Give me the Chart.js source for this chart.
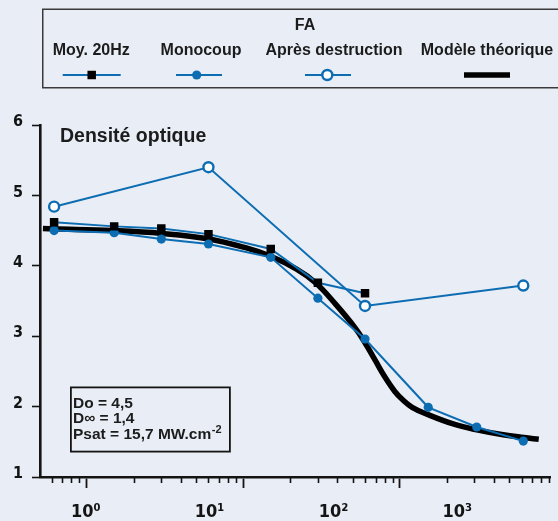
<!DOCTYPE html>
<html><head><meta charset="utf-8">
<script src="https://cdn.jsdelivr.net/npm/chart.js@4.4.1/dist/chart.umd.min.js"></script>
<style>html,body{margin:0;padding:0;background:#E9EDF5;}canvas{display:block}</style>
</head><body>
<canvas id="c" width="558" height="521"></canvas>
<script>
// ---- data ----
const intensity = [0.62, 1.5, 3, 6, 15, 30, 60, 152, 310, 615];
const moy20Hz = [4.62, 4.56, 4.53, 4.45, 4.24, 3.76, 3.61];
const monocoup = [4.50, 4.47, 4.38, 4.31, 4.12, 3.54, 2.96, 1.99, 1.71, 1.51];
const apresX = [0.62, 6, 60, 615];
const apresDestruction = [4.84, 5.40, 3.43, 3.72];
const modelX = [0.526, 0.622, 1.47, 3.02, 5.92, 10.6, 15, 21.8, 29.1, 38.9, 52, 60.2, 69.6, 80.4, 93, 104, 120, 150, 222, 310, 458, 621, 772];
const modelY = [4.53, 4.525, 4.50, 4.46, 4.385, 4.25, 4.135, 3.955, 3.755, 3.455, 3.115, 2.90, 2.66, 2.42, 2.215, 2.10, 1.99, 1.89, 1.75, 1.67, 1.60, 1.56, 1.535];
const yTickValues = [1, 2, 3, 4, 5, 6];
const decadeTicks = [1, 10, 100, 1000];
const decadeLabels = ['10⁰', '10¹', '10²', '10³'];
const seriesNames = ['Moy. 20Hz', 'Monocoup', 'Après destruction', 'Modèle théorique'];
const legendTitle = 'FA';
const panelTitle = 'Densité optique';
const fitLines = ['Do = 4,5', 'D∞ = 1,4', 'Psat = 15,7 MW.cm'];
const fitSup = '-2';

// ---- style ----
const BG = '#E9EDF5';
const BLUE = '#0d6db3';
const INK = '#141414';
const F = "'Liberation Sans', Arial, Helvetica, sans-serif";
const FN = "'Liberation Sans Narrow', 'Arial Narrow', 'DejaVu Sans Condensed', sans-serif";

const isDecade = v => Math.abs(Math.log10(v) - Math.round(Math.log10(v))) < 1e-9;
const pts = (xs, ys) => ys.map((y, i) => ({x: xs[i], y}));

const bgPlugin = {
  id: 'bg',
  beforeDraw(chart) {
    const c = chart.ctx; c.save(); c.fillStyle = BG;
    c.fillRect(0, 0, chart.width, chart.height); c.restore();
  }
};

const minorTicks = {
  id: 'minorTicks',
  afterDraw(chart) {
    const s = chart.scales.x, c = chart.ctx, a = chart.chartArea;
    c.save(); c.strokeStyle = INK; c.lineWidth = 1.6;
    s.ticks.forEach(t => {
      if (isDecade(t.value)) return;
      const px = Math.round(s.getPixelForValue(t.value)) + 0.5;
      if (px < a.left + 2 || px > a.right - 1) return;
      c.beginPath(); c.moveTo(px, a.bottom); c.lineTo(px, a.bottom + 6); c.stroke();
    });
    c.restore();
  }
};

function drawMarker(c, ds, x, y) {
  const r = ds.pointRadius;
  c.save();
  c.fillStyle = ds.pointBackgroundColor; c.strokeStyle = ds.pointBorderColor;
  c.lineWidth = ds.pointBorderWidth;
  c.beginPath();
  if (ds.pointStyle === 'rect') {
    const h = r * Math.SQRT1_2;
    c.rect(x - h, y - h, 2 * h, 2 * h);
  } else {
    c.arc(x, y, r, 0, Math.PI * 2);
  }
  c.fill(); if (ds.pointBorderWidth > 0) c.stroke();
  c.restore();
}

const legendBox = {
  id: 'legendBox',
  afterDraw(chart) {
    const c = chart.ctx;
    c.save();
    c.strokeStyle = '#3a3a3a'; c.lineWidth = 1.5;
    c.strokeRect(42.75, 9.25, 560, 78.5);
    c.fillStyle = '#1c1c1c';
    c.textAlign = 'center'; c.textBaseline = 'middle';
    c.font = 'bold 16px ' + F;
    c.fillText(legendTitle, 305, 26);
    const textX = [91.3, 201, 334, 487];
    const symX = [91.7, 199, 328, 487];
    const symHalf = [29, 23, 23, 23];
    const markX = [91.7, 196.7, 327.3, null];
    chart.data.datasets.forEach((ds, i) => {
      c.fillStyle = '#1c1c1c';
      c.font = 'bold 16px ' + F;
      c.fillText(ds.label, textX[i], 51);
      c.strokeStyle = ds.borderColor; c.lineWidth = ds.borderWidth;
      c.beginPath(); c.moveTo(symX[i] - symHalf[i], 75); c.lineTo(symX[i] + symHalf[i], 75); c.stroke();
      if (markX[i] !== null) drawMarker(c, ds, markX[i], 75);
    });
    c.restore();
  }
};

const annotations = {
  id: 'annotations',
  afterDraw(chart) {
    const c = chart.ctx, a = chart.chartArea;
    c.save();
    c.fillStyle = '#1c1c1c';
    c.textAlign = 'left'; c.textBaseline = 'middle';
    c.font = 'bold 19.5px ' + F;
    c.fillText(panelTitle, a.left + 20, a.top + 12);
    // fit parameter box
    c.strokeStyle = INK; c.lineWidth = 1.8;
    c.strokeRect(70.9, 387.4, 159, 64.2);
    c.font = 'bold 15.5px ' + F;
    const ys = [403.5, 419.2, 435];
    fitLines.forEach((t, i) => c.fillText(t, 73, ys[i]));
    const w = c.measureText(fitLines[2]).width;
    c.font = 'bold 11px ' + F;
    c.fillText(fitSup, 73 + w + 0.5, 430);
    c.restore();
  }
};

const xTickValues = [];
[0.1, 1, 10, 100].forEach(d => { for (let m = 1; m <= 9; m++) xTickValues.push(+(m * d).toPrecision(3)); });

new Chart(document.getElementById('c'), {
  type: 'line',
  data: {
    datasets: [
      { label: seriesNames[0], data: pts(intensity, moy20Hz), borderColor: BLUE, borderWidth: 2,
        pointStyle: 'rect', pointRadius: 6, pointBackgroundColor: '#000', pointBorderColor: '#000', pointBorderWidth: 0, tension: 0 },
      { label: seriesNames[1], data: pts(intensity, monocoup), borderColor: BLUE, borderWidth: 2,
        pointStyle: 'circle', pointRadius: 4.6, pointBackgroundColor: BLUE, pointBorderColor: BLUE, pointBorderWidth: 0, tension: 0 },
      { label: seriesNames[2], data: pts(apresX, apresDestruction), borderColor: BLUE, borderWidth: 2,
        pointStyle: 'circle', pointRadius: 5, pointBackgroundColor: '#fff', pointBorderColor: BLUE, pointBorderWidth: 2.4, tension: 0 },
      { label: seriesNames[3], data: pts(modelX, modelY), borderColor: '#000', borderWidth: 5.5,
        pointRadius: 0, tension: 0.4, borderCapStyle: 'butt', borderJoinStyle: 'round' }
    ]
  },
  options: {
    responsive: false, animation: false, events: [],
    layout: { padding: { left: 4, right: 0, top: 125, bottom: 0 } },
    plugins: { legend: { display: false }, tooltip: { enabled: false }, title: { display: false } },
    scales: {
      x: {
        type: 'logarithmic', position: 'bottom', weight: 0,
        min: 0.504, max: 919,
        afterBuildTicks: s => { s.ticks = xTickValues.filter(v => v >= s.min && v <= s.max).map(v => ({value: v})); },
        ticks: { display: false },
        grid: { display: true, drawOnChartArea: false, drawTicks: true, tickLength: 11,
                tickWidth: 1.8, tickColor: ctx => (ctx.tick && isDecade(ctx.tick.value)) ? INK : 'rgba(0,0,0,0)' },
        border: { display: true, color: INK, width: 2.6 }
      },
      x2: {
        type: 'logarithmic', position: 'bottom', weight: 1,
        min: 0.4264, max: 5675,
        afterBuildTicks: s => { s.ticks = decadeTicks.map(v => ({value: v})); },
        afterFit: s => { s.height = 33; },
        ticks: { display: true, autoSkip: false, maxRotation: 0, padding: 14, color: INK,
                 font: { family: FN, size: 18, weight: 'bold' },
                 callback: (v) => decadeLabels[decadeTicks.indexOf(v)] },
        grid: { display: false, drawTicks: false },
        border: { display: false }
      },
      y: {
        type: 'linear', position: 'left', min: 1, max: 6,
        afterBuildTicks: s => { s.ticks = yTickValues.map(v => ({value: v})); },
        ticks: { color: INK, padding: 9, labelOffset: -3, font: { family: FN, size: 16, weight: 'bold' } },
        grid: { display: true, drawOnChartArea: false, drawTicks: true, tickLength: 8, tickWidth: 1.6, tickColor: INK },
        border: { display: true, color: INK, width: 2.6 }
      }
    }
  },
  plugins: [bgPlugin, minorTicks, legendBox, annotations]
});
</script>
</body></html>
